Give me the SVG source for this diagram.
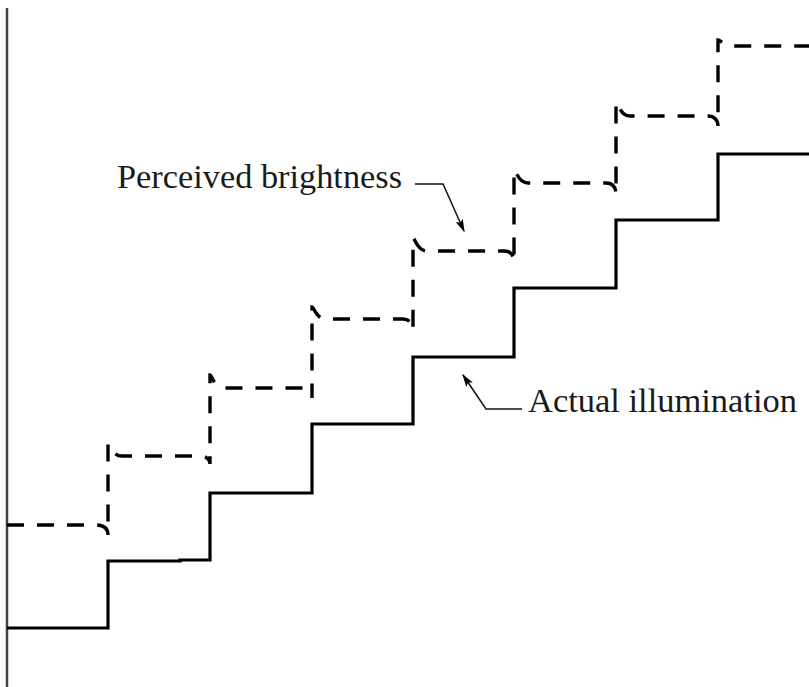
<svg xmlns="http://www.w3.org/2000/svg" width="809" height="687" viewBox="0 0 809 687">
<style>
.lbl{font-family:"Liberation Serif","Times New Roman",serif;font-size:33px;fill:#1a1a1a}
.solid{fill:none;stroke:#000;stroke-width:3.2;stroke-linejoin:miter}
.dash{fill:none;stroke:#000;stroke-width:3.4;stroke-dasharray:17 13}
.lead{fill:none;stroke:#111;stroke-width:1.5}
</style>
<defs>
<marker id="ah" viewBox="0 0 10 10" refX="9" refY="5" markerWidth="13" markerHeight="13" orient="auto" markerUnits="userSpaceOnUse">
<path d="M0,2 L10,5 L0,8 L2,5 Z" fill="#000"/>
</marker>
</defs>
<rect width="809" height="687" fill="#fff"/>
<g id="axis">
<line x1="7" y1="8" x2="7" y2="687" stroke="#444" stroke-width="2.5"/>
</g>
<g id="actual-illumination">
<path class="solid" d="M7,628 H108 V561 H180 V560 H210 V493 H312 V424 H413 V357 H514 V288 H616 V220 H718 V154 H809"/>
</g>
<g id="perceived-brightness">
<path class="dash" d="M7,525 H96 C104,525 108,529 108,535 V444 C110,444 112,456 122,456 H200 C206,456 210,459 210,464 V375 C212,375 214,388 224,388 H302 C308,388 312,391 312,398 V307 C314,307 316,319 326,319 H403 C409,319 413,323 413,330 V238 C415,238 417,251 427,251 H504 C510,251 514,255 514,262 V170 C516,170 518,183 528,183 H606 C612,183 616,187 616,194 V102 C618,102 620,116 630,116 H708 C714,116 718,120 718,126 V40 C721,40 723,46 732,46 H809"/>
</g>
<g id="connectors">
<path class="lead" d="M415,184 H443 L464,231" marker-end="url(#ah)"/>
<path class="lead" d="M522,409 H486 L463,375" marker-end="url(#ah)"/>
</g>
<g id="labels">
<text class="lbl" x="117" y="188" textLength="285" lengthAdjust="spacingAndGlyphs">Perceived brightness</text>
<text class="lbl" x="528" y="412" textLength="269" lengthAdjust="spacingAndGlyphs">Actual illumination</text>
</g>
</svg>
